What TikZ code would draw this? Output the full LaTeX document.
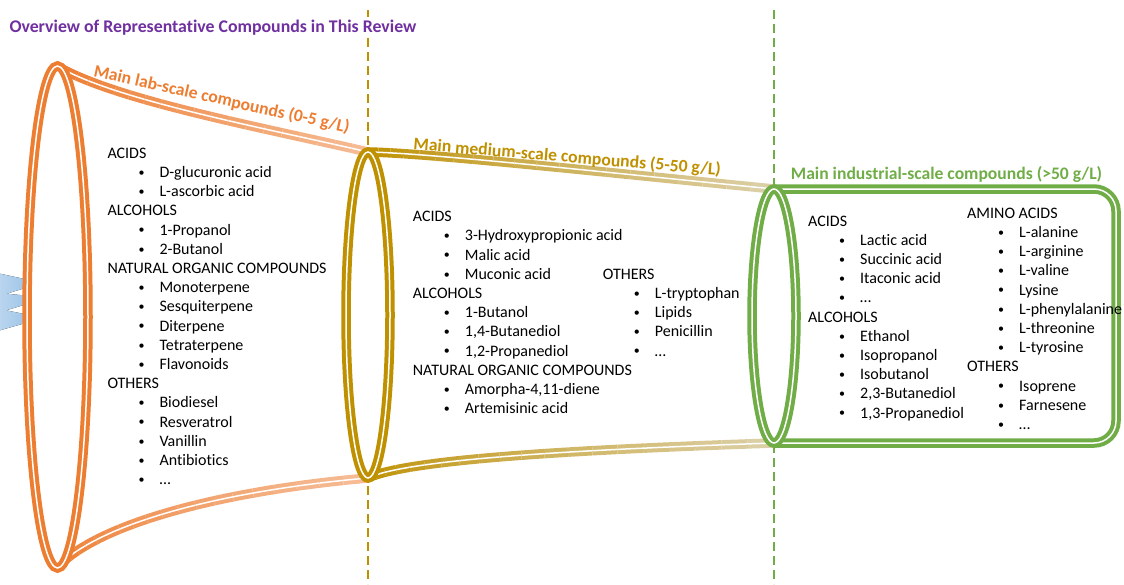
\documentclass[tikz,border=0pt]{standalone}
\usepackage{fontspec}
\setmainfont{Carlito}[Ligatures=CommonOff]

\definecolor{labor}{HTML}{ED7D31}
\definecolor{lablight}{HTML}{F6BE98}
\definecolor{medgold}{HTML}{BF9000}
\definecolor{medlight}{HTML}{DDD2AE}
\definecolor{indgreen}{HTML}{70AD47}
\definecolor{ttlpurple}{HTML}{7030A0}
\definecolor{arrowblue}{HTML}{9DC3E6}
\definecolor{arrowpale}{HTML}{B9D5EF}

\newcommand{\cmpd}[1]{\hspace*{31pt}\makebox[21pt][l]{\raisebox{1.2pt}{\fontsize{12}{12}\selectfont •}}#1}

\begin{document}
\begin{tikzpicture}[x=1pt, y=-1pt,
    rim/.style={line width=4pt, double=white, double distance=1.5pt},
    guide/.style={line width=2.2pt, dash pattern=on 9pt off 5pt},
    listtext/.style={anchor=base west, inner sep=0pt, font=\fontsize{16}{19.2}\selectfont},
    stagelabel/.style={anchor=base west, inner sep=0pt, font=\fontsize{17.6}{17.6}\selectfont\bfseries}]
  \useasboundingbox (0,0) rectangle (1124,584);

  % Stage borders
  \draw[guide, medgold] (368,10) -- (368,584);
  \draw[guide, indgreen] (774,10) -- (774,584);

  % Blue arrow tips behind the lab-scale rim
  \fill[left color=arrowpale, right color=arrowblue] (0,273.7) -- (30,280.2) -- (30,286.5) -- (6.7,293.7) -- (30,296) -- (30,303.2) -- (6,310.3) -- (30,315.1) -- (30,321.7) -- (0,330.3) -- cycle;

  % Funnel walls, fading to the right
  \foreach \ax/\ay/\bx/\by/\cx/\cy/\dx/\dy/\ca/\cb in {
      57/66/115/100/260/127/368/152/labor/lablight,
      57/568/90/530/200/493/368/478/labor/lablight,
      368/152/430/153/620/174/774/189/medgold/medlight,
      368/478/410/458/600/449/774/443/medgold/medlight} {
    \foreach \k in {0,...,19} {
      \pgfmathsetmacro{\ta}{\k/20}
      \pgfmathsetmacro{\tb}{(\k+1)/20}
      \pgfmathtruncatemacro{\pc}{100-5*\k}
      \draw[rim, draw=\ca!\pc!\cb] plot[domain=\ta:\tb, samples=6, variable=\t]
        ({(1-\t)^3*\ax + 3*(1-\t)^2*\t*\bx + 3*(1-\t)*\t^2*\cx + \t^3*\dx},
         {(1-\t)^3*\ay + 3*(1-\t)^2*\t*\by + 3*(1-\t)*\t^2*\cy + \t^3*\dy});
    }
  }

  % Industrial-scale cylinder
  \draw[rim, indgreen, rounded corners=22pt] (774,189) -- (1116,189) -- (1116,443) -- (774,443);

  % Rims
  \draw[rim, labor, fill=white] (57.5,317) ellipse [x radius=30.5pt, y radius=251pt];
  \draw[rim, medgold, fill=white] (368,315) ellipse [x radius=22pt, y radius=163pt];
  \draw[rim, indgreen, fill=white] (774,316) ellipse [x radius=22pt, y radius=127pt];

  % Stage labels
  \node[stagelabel, text=labor, rotate=-12.5] (lablabel) at (93,76.5) {Main lab-scale compounds (0-5 g/L)};
  \node[stagelabel, text=medgold, rotate=-4.8] (medlabel) at (413,149.5) {Main medium-scale compounds (5-50 g/L)};
  \node[stagelabel, text=indgreen] (indlabel) at (790.7,179) {Main industrial-scale compounds (>50 g/L)};

  % Compound lists
  \node[listtext] (lablist) at (107.3,158.3) {\begin{tabular}[t]{@{}l@{}}
    ACIDS\\ \cmpd{D-glucuronic acid}\\ \cmpd{L-ascorbic acid}\\
    ALCOHOLS\\ \cmpd{1-Propanol}\\ \cmpd{2-Butanol}\\
    NATURAL ORGANIC COMPOUNDS\\ \cmpd{Monoterpene}\\ \cmpd{Sesquiterpene}\\ \cmpd{Diterpene}\\ \cmpd{Tetraterpene}\\ \cmpd{Flavonoids}\\
    OTHERS\\ \cmpd{Biodiesel}\\ \cmpd{Resveratrol}\\ \cmpd{Vanillin}\\ \cmpd{Antibiotics}\\ \cmpd{…}
  \end{tabular}};
  \node[listtext] (medlist) at (412.7,221.7) {\begin{tabular}[t]{@{}l@{}}
    ACIDS\\ \cmpd{3-Hydroxypropionic acid}\\ \cmpd{Malic acid}\\ \cmpd{Muconic acid}\\
    ALCOHOLS\\ \cmpd{1-Butanol}\\ \cmpd{1,4-Butanediol}\\ \cmpd{1,2-Propanediol}\\
    NATURAL ORGANIC COMPOUNDS\\ \cmpd{Amorpha-4,11-diene}\\ \cmpd{Artemisinic acid}
  \end{tabular}};
  \node[listtext] (medothers) at (602.7,279.3) {\begin{tabular}[t]{@{}l@{}}
    OTHERS\\ \cmpd{L-tryptophan}\\ \cmpd{Lipids}\\ \cmpd{Penicillin}\\ \cmpd{…}
  \end{tabular}};
  \node[listtext] (indlist) at (808,226) {\begin{tabular}[t]{@{}l@{}}
    ACIDS\\ \cmpd{Lactic acid}\\ \cmpd{Succinic acid}\\ \cmpd{Itaconic acid}\\ \cmpd{…}\\
    ALCOHOLS\\ \cmpd{Ethanol}\\ \cmpd{Isopropanol}\\ \cmpd{Isobutanol}\\ \cmpd{2,3-Butanediol}\\ \cmpd{1,3-Propanediol}
  \end{tabular}};
  \node[listtext] (indamino) at (967,218.3) {\begin{tabular}[t]{@{}l@{}}
    AMINO ACIDS\\ \cmpd{L-alanine}\\ \cmpd{L-arginine}\\ \cmpd{L-valine}\\ \cmpd{Lysine}\\ \cmpd{L-phenylalanine}\\ \cmpd{L-threonine}\\ \cmpd{L-tyrosine}\\
    OTHERS\\ \cmpd{Isoprene}\\ \cmpd{Farnesene}\\ \cmpd{…}
  \end{tabular}};

  % Title
  \node[anchor=base west, fill=white, inner sep=3pt, text=ttlpurple, font=\fontsize{17.8}{17.8}\selectfont\bfseries] (title) at (6.3,32.3) {Overview of Representative Compounds in This Review};
\end{tikzpicture}
\end{document}
